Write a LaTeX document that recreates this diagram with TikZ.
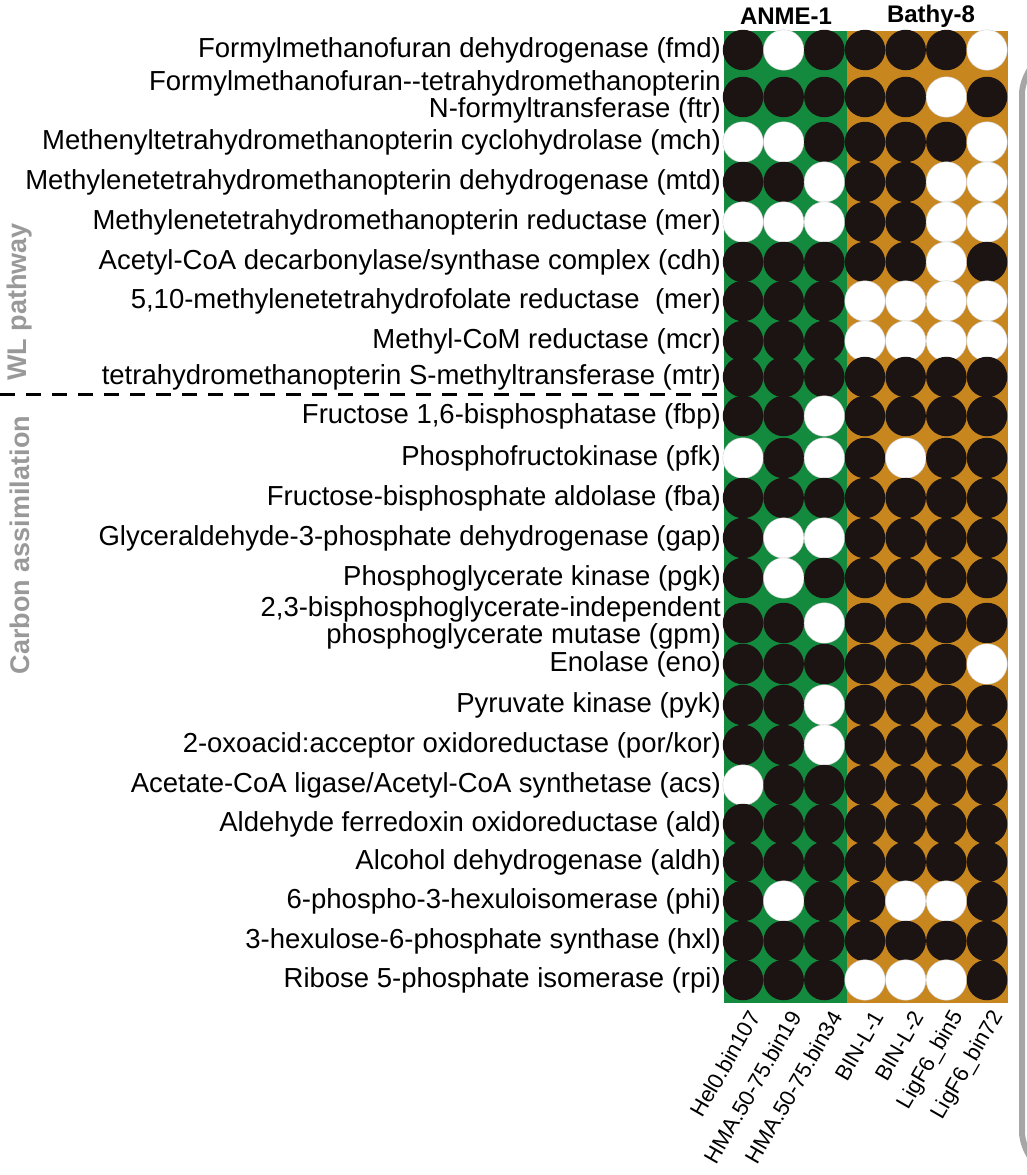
\documentclass[tikz,border=0pt]{standalone}
\usepackage{fontspec}
\setmainfont{Liberation Sans}
\definecolor{gr}{HTML}{138A3E}
\definecolor{orc}{HTML}{C8861E}
\definecolor{blk}{HTML}{1C1412}
\begin{document}
\begin{tikzpicture}[x=1pt,y=-1pt,
  lab/.style={anchor=east,font=\fontsize{27.5}{25}\selectfont,inner sep=1pt,align=right},
  dot/.style={circle,minimum size=40.5pt,inner sep=0pt},
  on/.style={dot,fill=blk},
  off/.style={dot,fill=white,draw=gray!40,line width=0.4pt},
  samp/.style={anchor=east,rotate=60,font=\fontsize{22}{24}\selectfont,inner sep=1pt},
  grp/.style={font=\bfseries\fontsize{24}{26}\selectfont},
  side/.style={rotate=90,text=gray!80,font=\bfseries\fontsize{27}{29}\selectfont}]
\useasboundingbox (0,0) rectangle (1026,1175);
\fill[gr] (724,31) rectangle (847,1003);
\fill[orc] (847,31) rectangle (1008,1003);
\node[grp] (anme) at (786,16) {ANME-1};
\node[grp] (bathy) at (931,16) {Bathy-8};
\foreach \y/\t/\v [count=\r] in {
 50/{Formylmethanofuran dehydrogenase (fmd)}/{1,0,1,1,1,1,0},
 97/{Formylmethanofuran{-}{-}tetrahydromethanopterin\\N-formyltransferase (ftr)}/{1,1,1,1,1,0,1},
 142/{Methenyltetrahydromethanopterin cyclohydrolase (mch)}/{0,0,1,1,1,1,0},
 182/{Methylenetetrahydromethanopterin dehydrogenase (mtd)}/{1,1,0,1,1,0,0},
 222/{Methylenetetrahydromethanopterin reductase (mer)}/{0,0,0,1,1,0,0},
 262/{Acetyl-CoA decarbonylase/synthase complex (cdh)}/{1,1,1,1,1,0,1},
 301/{5,10-methylenetetrahydrofolate reductase\ \ (mer)}/{1,1,1,0,0,0,0},
 341/{Methyl-CoM reductase (mcr)}/{1,1,1,0,0,0,0},
 377/{tetrahydromethanopterin S-methyltransferase (mtr)}/{1,1,1,1,1,1,1},
 416/{Fructose 1,6-bisphosphatase (fbp)}/{1,1,0,1,1,1,1},
 458/{Phosphofructokinase (pfk)}/{0,1,0,1,0,1,1},
 498/{Fructose-bisphosphate aldolase (fba)}/{1,1,1,1,1,1,1},
 538/{Glyceraldehyde-3-phosphate dehydrogenase (gap)}/{1,0,0,1,1,1,1},
 578/{Phosphoglycerate kinase (pgk)}/{1,0,1,1,1,1,1},
 623/{2,3-bisphosphoglycerate-independent\\phosphoglycerate mutase (gpm)}/{1,1,0,1,1,1,1},
 664/{Enolase (eno)}/{1,1,1,1,1,1,0},
 705/{Pyruvate kinase (pyk)}/{1,1,0,1,1,1,1},
 745/{2-oxoacid:acceptor oxidoreductase (por/kor)}/{1,1,0,1,1,1,1},
 785/{Acetate-CoA ligase/Acetyl-CoA synthetase (acs)}/{0,1,1,1,1,1,1},
 824/{Aldehyde ferredoxin oxidoreductase (ald)}/{1,1,1,1,1,1,1},
 862/{Alcohol dehydrogenase (aldh)}/{1,1,1,1,1,1,1},
 901/{6-phospho-3-hexuloisomerase (phi)}/{1,0,1,1,0,0,1},
 941/{3-hexulose-6-phosphate synthase (hxl)}/{1,1,1,1,1,1,1},
 980/{Ribose 5-phosphate isomerase (rpi)}/{1,1,1,0,0,0,1}}{
  \node[lab] (l\r) at (722,\y) {\t};
  \foreach \b [count=\c] in \v {
    \pgfmathsetmacro\xx{743+(\c-1)*40.67}
    \ifnum\b=1 \node[on] (d\r-\c) at (\xx,\y) {};
    \else \node[off] (d\r-\c) at (\xx,\y) {}; \fi
  }
}
\coordinate (dl) at (0,394);
\coordinate (dr) at (724,394);
\draw[line width=3pt,dash pattern=on 15pt off 11pt] (dl) -- (dr);
\node[side] (wl) at (20,302) {WL pathway};
\node[side] (ca) at (20,545) {Carbon assimilation};
\foreach \x/\t [count=\c] in {755/Hel0.bin107,796/HMA.50-75.bin19,837/HMA.50-75.bin34,879/BIN-L-1,919/BIN-L-2,959/LigF6\_bin5,999/LigF6\_bin72}
  \node[samp] (s\c) at (\x,1012) {\t};
\draw[gray!70,line width=6pt,rounded corners=18pt] (1040,58) -- (1022,76) -- (1022,1150) -- (1040,1168);
\end{tikzpicture}
\end{document}
